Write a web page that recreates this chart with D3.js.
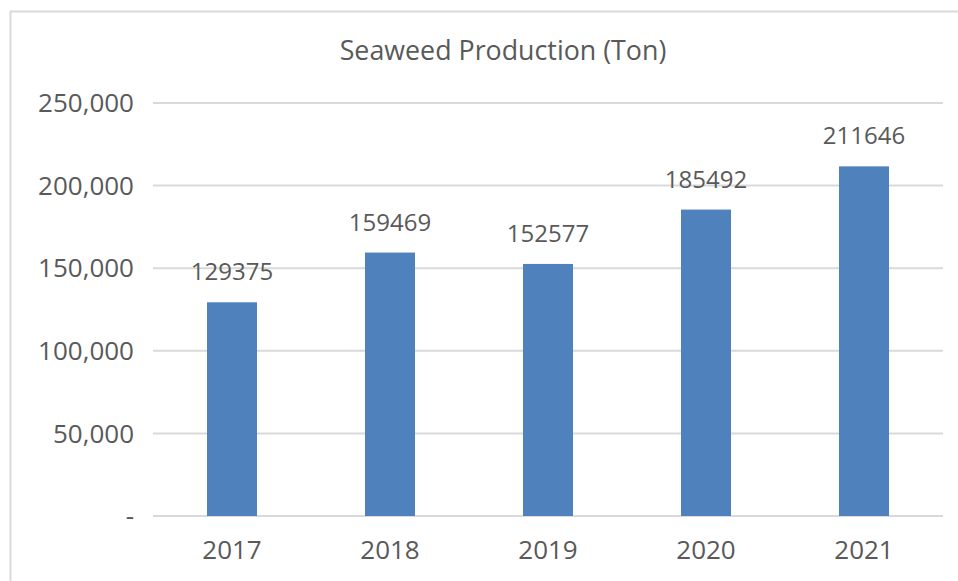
<!DOCTYPE html>
<html>
	<head>
		<meta http-equiv="Content-Type" content="text/html;charset=utf-8"/>
		<title>Seaweed Production</title>
		<script src="https://d3js.org/d3.v7.min.js"></script>
		<style type="text/css">
			body { margin: 0; background: #fff; }
			text { font-family: "Open Sans", sans-serif; fill: #595959; }
			.bar { fill: #4f81bd; }
			.grid line { stroke: #d9d9d9; stroke-width: 2; }
		</style>
	</head>
	<body>
		<script type="text/javascript">

			//Chart data
			var years = ["2017", "2018", "2019", "2020", "2021"];
			var production = [129375, 159469, 152577, 185492, 211646];
			var yTicks = [0, 50000, 100000, 150000, 200000, 250000];

			var w = 958,
				h = 581;

			var margin = {left: 153, right: 15, top: 103, bottom: 65};

			var svg = d3.select("body").append("svg")
						.attr("width", w)
						.attr("height", h);

			//Outer frame of the chart area (runs off the right and bottom)
			svg.append("rect")
				.attr("x", 10.5)
				.attr("y", 11.5)
				.attr("width", 1000)
				.attr("height", 700)
				.attr("fill", "none")
				.attr("stroke", "#d9d9d9")
				.attr("stroke-width", 2);

			var xScale = d3.scaleBand()
							.domain(years)
							.range([margin.left, w - margin.right]);

			var yScale = d3.scaleLinear()
							.domain([0, 250000])
							.range([h - margin.bottom, margin.top]);

			//Gridlines
			svg.append("g")
				.attr("class", "grid")
				.selectAll("line")
				.data(yTicks)
				.enter()
				.append("line")
				.attr("x1", margin.left)
				.attr("x2", w - margin.right)
				.attr("y1", function(d) { return yScale(d); })
				.attr("y2", function(d) { return yScale(d); });

			//Y axis labels
			svg.append("g")
				.selectAll("text")
				.data(yTicks)
				.enter()
				.append("text")
				.attr("x", 134)
				.attr("y", function(d) { return yScale(d); })
				.attr("dy", "0.35em")
				.attr("text-anchor", "end")
				.style("font-size", "26px")
				.text(function(d) { return d === 0 ? "-" : d3.format(",")(d); });

			var bw = 50;

			//Bars
			svg.selectAll("rect.bar")
				.data(production)
				.enter()
				.append("rect")
				.attr("class", "bar")
				.attr("x", function(d, i) {
					return xScale(years[i]) + xScale.bandwidth() / 2 - bw / 2;
				})
				.attr("width", bw)
				.attr("y", function(d) { return yScale(d); })
				.attr("height", function(d) { return yScale(0) - yScale(d); });

			//Value labels
			svg.selectAll("text.value")
				.data(production)
				.enter()
				.append("text")
				.attr("class", "value")
				.attr("x", function(d, i) {
					return xScale(years[i]) + xScale.bandwidth() / 2;
				})
				.attr("y", function(d) { return yScale(d) - 22; })
				.attr("text-anchor", "middle")
				.style("font-size", "24px")
				.text(function(d) { return d; });

			//X axis labels
			svg.selectAll("text.year")
				.data(years)
				.enter()
				.append("text")
				.attr("class", "year")
				.attr("x", function(d) { return xScale(d) + xScale.bandwidth() / 2; })
				.attr("y", 559)
				.attr("text-anchor", "middle")
				.style("font-size", "26px")
				.text(function(d) { return d; });

			//Title
			svg.append("text")
				.attr("x", 503)
				.attr("y", 60)
				.attr("text-anchor", "middle")
				.style("font-size", "26.8px")
				.text("Seaweed Production (Ton)");

		</script>
	</body>
</html>
